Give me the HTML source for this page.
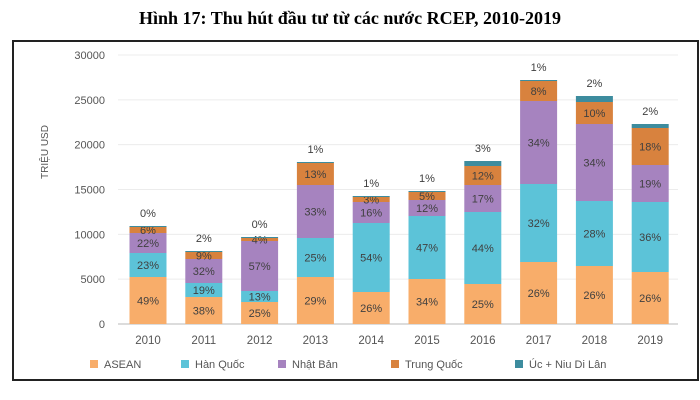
<!DOCTYPE html>
<html><head><meta charset="utf-8"><style>
body{margin:0;background:#fff;width:700px;height:400px;overflow:hidden}
svg{display:block}
</style></head><body>
<svg id="s" width="700" height="400" xmlns="http://www.w3.org/2000/svg" font-family="Liberation Sans, DejaVu Sans, sans-serif">
<text x="350" y="24" text-anchor="middle" font-family="Liberation Serif, serif" font-weight="bold" font-size="18" fill="#000">Hình 17: Thu hút đầu tư từ các nước RCEP, 2010-2019</text>
<rect x="13" y="41" width="685" height="339" fill="none" stroke="#222" stroke-width="2"/>
<g id="g"></g>
<text transform="translate(48,152) rotate(-90)" text-anchor="middle" font-size="10" fill="#555">TRIỆU USD</text>
<g font-size="11" fill="#555">
<rect x="90" y="360" width="8" height="8" fill="#F8AD6A"/><text x="104" y="368">ASEAN</text>
<rect x="181" y="360" width="8" height="8" fill="#5CC3D8"/><text x="195" y="368">Hàn Quốc</text>
<rect x="278" y="360" width="8" height="8" fill="#A683BF"/><text x="292" y="368">Nhật Bản</text>
<rect x="391" y="360" width="8" height="8" fill="#D8823E"/><text x="405" y="368">Trung Quốc</text>
<rect x="515" y="360" width="8" height="8" fill="#3D8C9E"/><text x="529" y="368">Úc + Niu Di Lân</text>
</g>
</svg>
<script>
var g=document.getElementById('g'),h='';
for(var i=0;i<=6;i++){var y=324-i*44.83;h+='<line x1="118" x2="678" y1="'+y+'" y2="'+y+'" stroke="'+(i?'#ececec':'#d0d0d0')+'" stroke-width="'+(i?1:1.5)+'"/>';
h+='<text x="105" y="'+(y+4)+'" text-anchor="end" font-size="11" fill="#555">'+(i*5000)+'</text>';}
var C=['#F8AD6A','#5CC3D8','#A683BF','#D8823E','#3D8C9E'];
var D=[[277,253,233,227,226,['49%','23%','22%','6%','0%']],
[297,283,259,252,251,['38%','19%','32%','9%','2%']],
[302,291,241,238,237,['25%','13%','57%','4%','0%']],
[277,238,185,163,162,['29%','25%','33%','13%','1%']],
[292,223,202,197,196,['26%','54%','16%','3%','1%']],
[279,216,200,192,191,['34%','47%','12%','5%','1%']],
[284,212,185,166,161,['25%','44%','17%','12%','3%']],
[262,184,101,81,80,['26%','32%','34%','8%','1%']],
[266,201,124,102,96,['26%','28%','34%','10%','2%']],
[272,202,165,128,124,['26%','36%','19%','18%','2%']]];
for(var b=0;b<10;b++){var cx=148+55.8*b,d=D[b],prev=324;
for(var k=0;k<5;k++){var t=d[k];h+='<rect x="'+(cx-18.5)+'" y="'+t+'" width="37" height="'+(prev-t)+'" fill="'+C[k]+'"/>';
if(k<4)h+='<text x="'+cx+'" y="'+((t+prev)/2+4)+'" text-anchor="middle" font-size="11" fill="#404040">'+d[5][k]+'</text>';
prev=t;}
h+='<text x="'+cx+'" y="'+(d[4]-9)+'" text-anchor="middle" font-size="11" fill="#404040">'+d[5][4]+'</text>';
h+='<text x="'+cx+'" y="344" text-anchor="middle" font-size="11.5" fill="#555">'+(2010+b)+'</text>';}
g.innerHTML=h;
</script>
</body></html>
